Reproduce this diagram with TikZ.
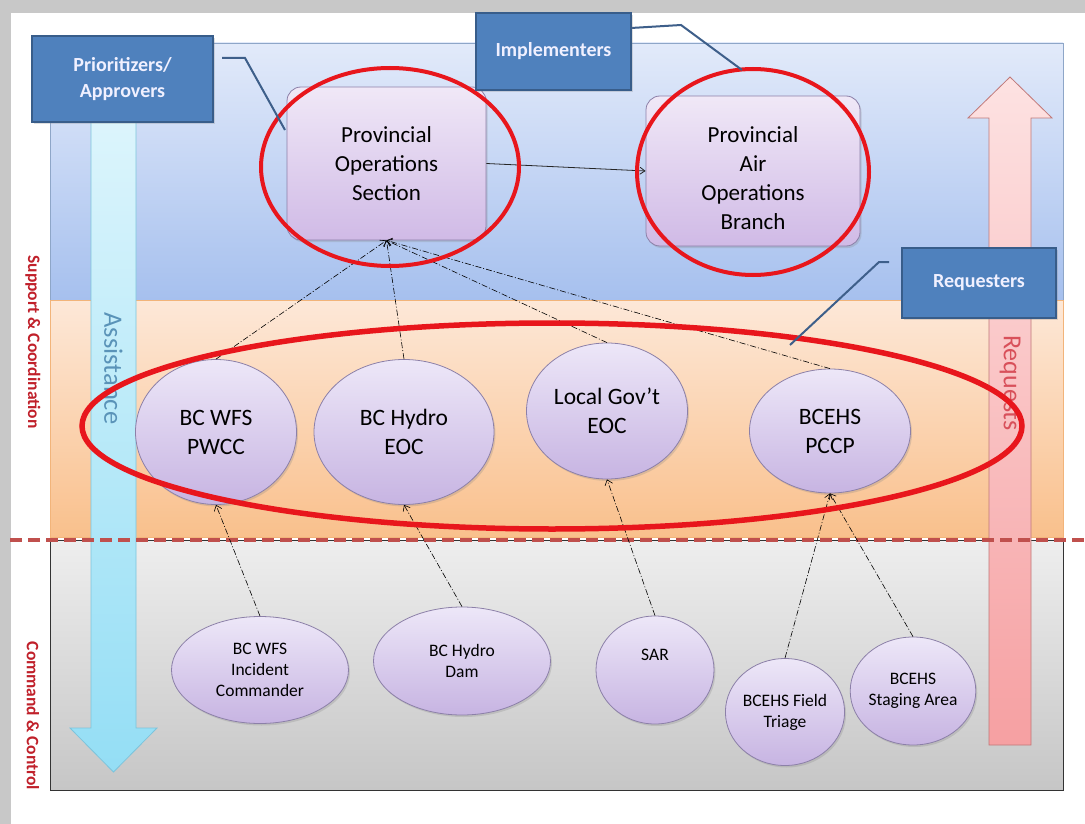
\documentclass[tikz,border=0pt]{standalone}
\usepackage{fontspec}
\setmainfont{Carlito}
\usetikzlibrary{arrows.meta,shapes.geometric,shadows}
\definecolor{framegray}{HTML}{C8C8C8}
\definecolor{bluetop}{HTML}{E2EAFA}
\definecolor{bluebot}{HTML}{A6C0EE}
\definecolor{blueedge}{HTML}{8EA6C8}
\definecolor{orangetop}{HTML}{FDE8D8}
\definecolor{orangebot}{HTML}{F9C08C}
\definecolor{orangeedge}{HTML}{F2B47A}
\definecolor{graytop}{HTML}{EEEEEE}
\definecolor{graybot}{HTML}{C6C6C6}
\definecolor{asstop}{HTML}{DDF5FC}
\definecolor{assbot}{HTML}{94DEF5}
\definecolor{assedge}{HTML}{7CC4DC}
\definecolor{asstext}{HTML}{5A93B8}
\definecolor{reqtop}{HTML}{FDE2E2}
\definecolor{reqbot}{HTML}{F6A0A2}
\definecolor{reqedge}{HTML}{C07878}
\definecolor{reqtext}{HTML}{D8505A}
\definecolor{labred}{HTML}{C0202A}
\definecolor{dashred}{HTML}{C0504D}
\definecolor{boxfill}{HTML}{4F81BD}
\definecolor{boxedge}{HTML}{385D8A}
\definecolor{calloutcol}{HTML}{3E5F8A}
\definecolor{elltop}{HTML}{EDE7F8}
\definecolor{ellbot}{HTML}{C7B4E2}
\definecolor{ellborder}{HTML}{8C80A8}
\definecolor{recttop}{HTML}{F0E8F7}
\definecolor{rectbot}{HTML}{D0BAE6}
\definecolor{hired}{HTML}{E8161C}
\begin{document}
\begin{tikzpicture}[x=1pt,y=-1pt,
  pshadow/.style={drop shadow={opacity=0.25,shadow xshift=1.5pt,shadow yshift=-2pt}},
  ellnode/.style={ellipse, draw=ellborder, line width=0.8pt, top color=elltop, bottom color=ellbot,
    inner sep=0pt, align=center, pshadow},
  midell/.style={ellnode, font=\fontsize{23.5}{29}\selectfont},
  lowell/.style={ellnode, font=\fontsize{17.5}{21}\selectfont},
  recnode/.style={rectangle, rounded corners=14pt, draw=ellborder, line width=0.8pt,
    top color=recttop, bottom color=rectbot, inner sep=0pt, align=center,
    font=\fontsize{23}{29}\selectfont, pshadow},
  rectext/.style={inner sep=0pt, align=center, font=\fontsize{23}{29}\selectfont},
  rolebox/.style={rectangle, draw=boxedge, line width=1.5pt, fill=boxfill, text=white!94!blue,
    inner sep=0pt, align=center, font=\bfseries\fontsize{20}{26}\selectfont, pshadow},
  flow/.style={draw=black, line width=0.6pt, dash pattern=on 6pt off 2pt on 1pt off 2pt,
    -{Straight Barb[length=5pt,width=8pt]}},
  callout/.style={draw=calloutcol, line width=2pt},
  highlight/.style={draw=hired, line width=4pt},
  sidelabel/.style={rotate=-90, text=labred, font=\bfseries\fontsize{17.5}{19}\selectfont}
]
\useasboundingbox (0,0) rectangle (1085,824);
% frame
\fill[framegray] (0,0) rectangle (1085,824);
\fill[white] (11,13) rectangle (1085,824);
% bands
\draw[blueedge, line width=0.8pt, top color=bluetop, bottom color=bluebot] (50,43) rectangle (1063,300);
\draw[orangeedge, line width=0.8pt, top color=orangetop, bottom color=orangebot] (50,300) rectangle (1063,537);
\draw[black!80, line width=1pt, top color=graytop, bottom color=graybot] (50,540) rectangle (1063,790);
% side labels
\node[sidelabel] (lsup) at (33,342) {Support \& Coordination};
\node[sidelabel] (lcmd) at (33,716) {Command \& Control};
% Assistance arrow
\draw[assedge, line width=0.8pt, top color=asstop, bottom color=assbot]
  (91,110) -- (136,110) -- (136,728) -- (157,728) -- (113.5,772) -- (70,728) -- (91,728) -- cycle;
\node[rotate=-90, text=asstext, font=\fontsize{26.5}{28}\selectfont] (asst) at (113.5,368.5) {Assistance};
% Requests arrow
\draw[reqedge, line width=0.8pt, top color=reqtop, bottom color=reqbot]
  (989,745) -- (1031,745) -- (1031,118) -- (1052,118) -- (1010,77) -- (968,118) -- (989,118) -- cycle;
\node[rotate=-90, text=reqtext, font=\fontsize{26}{28}\selectfont] (reqt) at (1010,383) {Requests};
% dashed separator
\draw[dashred, line width=3.5pt, dash pattern=on 12pt off 6pt] (10,540) -- (1085,540);
% top rectangles
\node[recnode, minimum width=199pt, minimum height=153pt] (pos) at (386.5,163.5) {Provincial\\Operations\\Section};
\node[recnode, minimum width=214pt, minimum height=150pt,
  label={[rectext, yshift=-7pt]center:Provincial\\Air\\Operations\\Branch}] (paob) at (753,171) {};
% middle ellipses
\node[midell, minimum width=161pt, minimum height=145pt] (wfs) at (216,432) {BC WFS\\PWCC};
\node[midell, minimum width=180pt, minimum height=145pt] (hyd) at (404,432) {BC Hydro\\EOC};
\node[midell, minimum width=161pt, minimum height=136pt] (lgov) at (607,411) {Local Gov’t\\EOC};
\node[midell, minimum width=161pt, minimum height=124pt] (ehs) at (830,431) {BCEHS\\PCCP};
% lower ellipses
\node[lowell, minimum width=177pt, minimum height=107pt] (wfsic) at (260,670) {BC WFS\\Incident\\Commander};
\node[lowell, minimum width=177pt, minimum height=108pt] (dam) at (462,661) {BC Hydro\\Dam};
\node[lowell, minimum width=118pt, minimum height=108pt] (sar) at (655,670) {SAR\\[10pt]};
\node[lowell, minimum width=118pt, minimum height=107pt] (triage) at (785,712) {BCEHS Field\\Triage};
\node[lowell, minimum width=116pt, minimum height=108pt] (stage) at (913,691) {BCEHS\\Staging Area};
% connectors
\draw[line width=0.8pt, draw=black!85, -{Straight Barb[length=5pt,width=7pt]}] (pos.east) -- (paob.west);
\draw[flow] (wfs.north) -- (pos.south);
\draw[flow] (hyd.north) -- (pos.south);
\draw[flow] (lgov.north) -- (pos.south);
\draw[flow] (ehs.north) -- (pos.south);
\draw[flow] (wfsic.north) -- (wfs.south);
\draw[flow] (dam.north) -- (hyd.south);
\draw[flow] (sar.north) -- (lgov.south);
\draw[flow] (triage.north) -- (ehs.south);
\draw[flow] (stage.north) -- (ehs.south);
% highlight ellipses
\draw[highlight] (390,167) ellipse [x radius=129, y radius=99];
\draw[highlight] (753,172) ellipse [x radius=116, y radius=103];
\draw[highlight, line width=5.5pt] (552,426) ellipse [x radius=470, y radius=103];
% callouts
\coordinate (cpA) at (222,58);
\coordinate (cpB) at (245,58);
\coordinate (cpC) at (285,130);
\draw[callout] (cpA) -- (cpB) -- (cpC);
\coordinate (ciA) at (631,28);
\coordinate (ciB) at (681,25);
\coordinate (ciC) at (742,70);
\draw[callout] (ciA) -- (ciB) -- (ciC);
\coordinate (crA) at (889,262);
\coordinate (crB) at (879,262);
\coordinate (crC) at (790,345);
\draw[callout] (crA) -- (crB) -- (crC);
% role boxes
\node[rolebox, minimum width=181pt, minimum height=86pt] (prio) at (122.5,79) {Prioritizers/\\Approvers};
\node[rolebox, minimum width=155pt, minimum height=77pt] (impl) at (553.5,51.5) {Implementers};
\node[rolebox, minimum width=154pt, minimum height=70pt] (reqs) at (979,283) {Requesters};
\end{tikzpicture}
\end{document}
